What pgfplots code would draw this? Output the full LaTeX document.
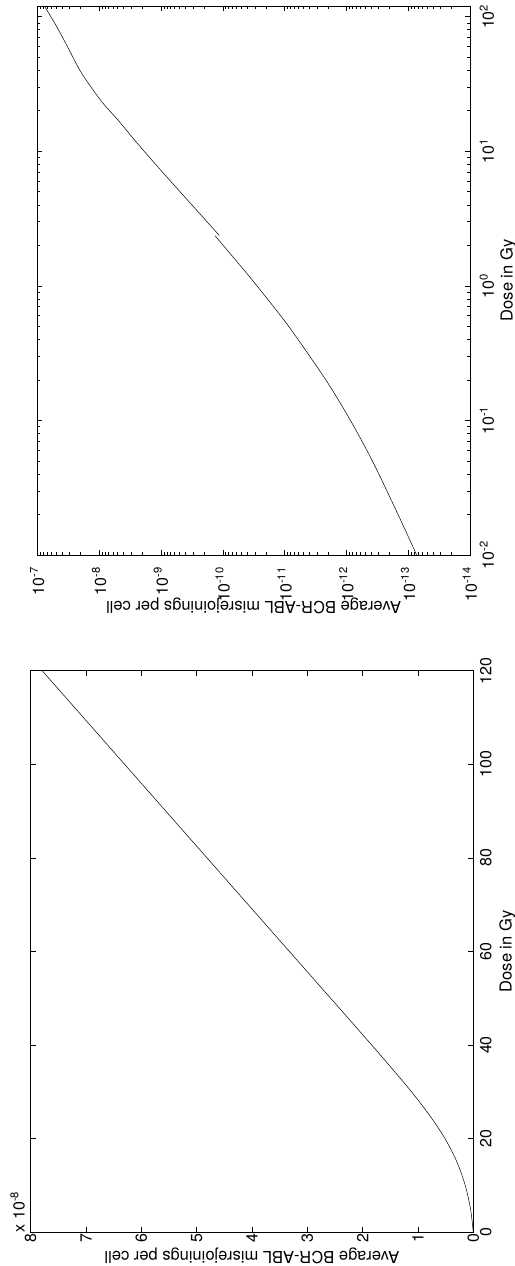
\documentclass[border=0pt]{standalone}
\usepackage{fontspec}
\setmainfont{TeX Gyre Heros}
\usepackage{pgfplots}
\pgfplotsset{compat=1.18}
\usepackage{pgfplotstable}

% dose (Gy) vs. misrejoinings per cell, linear panel (units of 1e-8)
\pgfplotstableread{
dose val
0    0
5    0.05
10   0.145
15   0.295
20   0.51
25   0.79
30   1.115
35   1.47
40   1.835
45   2.205
50   2.578
55   2.95
60   3.323
70   4.068
80   4.813
90   5.558
100  6.303
110  7.048
120  7.793
}\linlq

% log panel, low-dose branch
\pgfplotstableread{
dose  val
0.01  7.3e-14
0.02  1.46e-13
0.05  3.8e-13
0.1   8.6e-13
0.2   2.15e-12
0.5   8.6e-12
1     2.8e-11
1.5   5.8e-11
2.35  1.33e-10
}\lowdose

% log panel, high-dose branch
\pgfplotstableread{
dose  val
2.37  1.14e-10
3.5   2.44e-10
5     4.9e-10
7.5   1.08e-9
11.9  2.59e-9
17    4.92e-9
23.4  9.1e-9
38    1.92e-8
60    3.26e-8
84.3  4.85e-8
120   7.7e-8
}\highdose

\newcommand{\labfont}{\fontsize{16.5}{18}\selectfont}

\pgfplotsset{
  misrej/.style={
    scale only axis,
    anchor=south west,
    axis line style={line width=0.6pt},
    every tick/.style={black, line width=0.5pt},
    major tick length=5pt,
    minor tick length=3pt,
    x dir=reverse,
    yticklabel pos=right,
    tick label style={font=\fontsize{16}{18}\selectfont},
    /pgf/number format/assume math mode=true,
    xticklabel style={rotate=90, anchor=east, inner sep=1.5pt},
    yticklabel style={rotate=90, anchor=north, inner sep=1.5pt},
  },
  curve/.style={black, line width=0.5pt, no markers},
}

\begin{document}
\begin{tikzpicture}
\path[use as bounding box] (0,0) rectangle (514pt,1266pt);

\begin{axis}[misrej, name=lin,
    at={(30.7pt,33.7pt)}, width=442.6pt, height=561.6pt,
    xmin=0, xmax=8, ymin=0, ymax=120,
    xtick={0,1,...,8}, ytick={0,20,...,120},
    yticklabel shift=5pt,
    xlabel={Average BCR-ABL misrejoinings per cell},
    ylabel={Dose in Gy},
    every axis x label/.style={at={(axis description cs:0.5,0)},
        font=\labfont, inner sep=0pt,
        yshift=-15.7pt, rotate=180, anchor=south},
    every axis y label/.style={at={(axis description cs:1,0.5)},
        font=\labfont, inner sep=0pt,
        xshift=25.7pt, rotate=90, anchor=north},
]
\addplot[curve, smooth] table[x=val, y=dose] {\linlq};
\end{axis}
\node[rotate=90, anchor=south west, inner sep=0pt,
      font=\fontsize{16}{18}\selectfont]
  at ([xshift=-5.7pt]lin.south west) {x 10\textsuperscript{-8}};

\begin{axis}[misrej, name=lg,
    at={(37.3pt,711pt)}, width=432.7pt, height=549pt,
    xmode=log, ymode=log,
    xmin=1e-14, xmax=1e-7, ymin=0.01, ymax=120,
    xtick={1e-14,1e-13,1e-12,1e-11,1e-10,1e-9,1e-8,1e-7},
    xticklabels={10\textsuperscript{-14},10\textsuperscript{-13},
      10\textsuperscript{-12},10\textsuperscript{-11},10\textsuperscript{-10},
      10\textsuperscript{-9},10\textsuperscript{-8},10\textsuperscript{-7}},
    ytick={0.01,0.1,1,10,100},
    yticklabels={10\textsuperscript{-2},10\textsuperscript{-1},
      10\textsuperscript{0},10\textsuperscript{1},10\textsuperscript{2}},
    xticklabel shift=10.5pt,
    yticklabel shift=8pt,
    xlabel={Average BCR-ABL misrejoinings per cell},
    ylabel={Dose in Gy},
    every axis x label/.style={at={(axis description cs:0.5,0)},
        font=\labfont, inner sep=0pt,
        yshift=-43pt, rotate=180, anchor=south},
    every axis y label/.style={at={(axis description cs:1,0.5)},
        font=\labfont, inner sep=0pt,
        xshift=30pt, rotate=90, anchor=north},
]
\addplot[curve, smooth] table[x=val, y=dose] {\lowdose};
\addplot[curve, smooth] table[x=val, y=dose] {\highdose};
\end{axis}
\end{tikzpicture}
\end{document}
